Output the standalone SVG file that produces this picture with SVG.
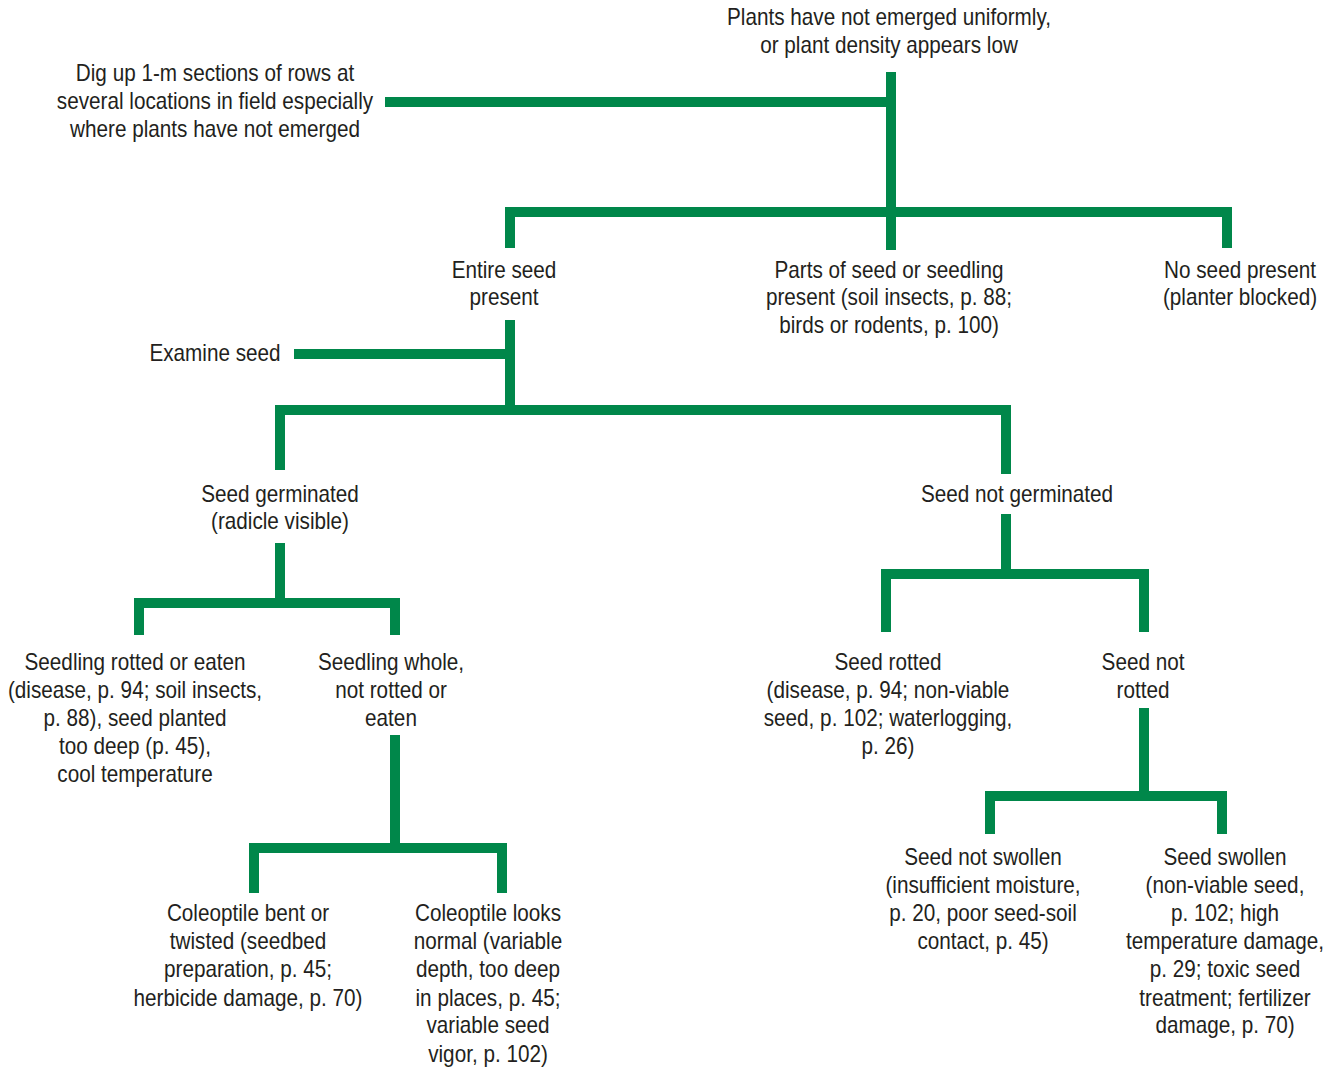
<svg xmlns="http://www.w3.org/2000/svg" width="1340" height="1069" viewBox="0 0 1340 1069">
<style>
text{font-family:"Liberation Sans",Arial,sans-serif;font-size:23px;fill:#231f20;text-anchor:middle}
.c{fill:none;stroke:#00874a;stroke-width:10;stroke-linejoin:miter;stroke-linecap:butt}
</style>
<rect width="1340" height="1069" fill="#fff"/>
<g id="connectors">
<line class="c" x1="891" y1="72" x2="891" y2="250"/>
<line class="c" x1="385" y1="102" x2="891" y2="102"/>
<polyline class="c" points="510,248 510,212 1227,212 1227,248"/>
<line class="c" x1="510" y1="320" x2="510" y2="410"/>
<line class="c" x1="294" y1="354" x2="510" y2="354"/>
<polyline class="c" points="280,470 280,410 1006,410 1006,474"/>
<line class="c" x1="280" y1="543" x2="280" y2="603"/>
<polyline class="c" points="139,635 139,603 395,603 395,635"/>
<line class="c" x1="1006" y1="514" x2="1006" y2="574"/>
<polyline class="c" points="886,632 886,574 1144,574 1144,632"/>
<line class="c" x1="395" y1="735" x2="395" y2="848"/>
<polyline class="c" points="254,893 254,848 502,848 502,893"/>
<line class="c" x1="1144" y1="708" x2="1144" y2="796"/>
<polyline class="c" points="990,834 990,796 1222,796 1222,834"/>
</g>
<g id="n-top" transform="translate(889 0) scale(0.9 1)"><text x="0" y="25">Plants have not emerged uniformly,</text><text x="0" y="53">or plant density appears low</text></g>
<g id="n-dig" transform="translate(215 0) scale(0.9 1)"><text x="0" y="81">Dig up 1-m sections of rows at</text><text x="0" y="109">several locations in field especially</text><text x="0" y="137">where plants have not emerged</text></g>
<g id="n-entire" transform="translate(504 0) scale(0.9 1)"><text x="0" y="278">Entire seed</text><text x="0" y="305">present</text></g>
<g id="n-parts" transform="translate(889 0) scale(0.9 1)"><text x="0" y="278">Parts of seed or seedling</text><text x="0" y="305">present (soil insects, p. 88;</text><text x="0" y="333">birds or rodents, p. 100)</text></g>
<g id="n-noseed" transform="translate(1240 0) scale(0.9 1)"><text x="0" y="278">No seed present</text><text x="0" y="305">(planter blocked)</text></g>
<g id="n-examine" transform="translate(215 0) scale(0.9 1)"><text x="0" y="361">Examine seed</text></g>
<g id="n-germ" transform="translate(280 0) scale(0.9 1)"><text x="0" y="502">Seed germinated</text><text x="0" y="529">(radicle visible)</text></g>
<g id="n-notgerm" transform="translate(1017 0) scale(0.9 1)"><text x="0" y="502">Seed not germinated</text></g>
<g id="n-rotted-eaten" transform="translate(135 0) scale(0.9 1)"><text x="0" y="670">Seedling rotted or eaten</text><text x="0" y="698">(disease, p. 94; soil insects,</text><text x="0" y="726">p. 88), seed planted</text><text x="0" y="754">too deep (p. 45),</text><text x="0" y="782">cool temperature</text></g>
<g id="n-whole" transform="translate(391 0) scale(0.9 1)"><text x="0" y="670">Seedling whole,</text><text x="0" y="698">not rotted or</text><text x="0" y="726">eaten</text></g>
<g id="n-bent" transform="translate(248 0) scale(0.9 1)"><text x="0" y="921">Coleoptile bent or</text><text x="0" y="949">twisted (seedbed</text><text x="0" y="977">preparation, p. 45;</text><text x="0" y="1006">herbicide damage, p. 70)</text></g>
<g id="n-normal" transform="translate(488 0) scale(0.9 1)"><text x="0" y="921">Coleoptile looks</text><text x="0" y="949">normal (variable</text><text x="0" y="977">depth, too deep</text><text x="0" y="1006">in places, p. 45;</text><text x="0" y="1033">variable seed</text><text x="0" y="1062">vigor, p. 102)</text></g>
<g id="n-seedrotted" transform="translate(888 0) scale(0.9 1)"><text x="0" y="670">Seed rotted</text><text x="0" y="698">(disease, p. 94; non-viable</text><text x="0" y="726">seed, p. 102; waterlogging,</text><text x="0" y="754">p. 26)</text></g>
<g id="n-notrotted" transform="translate(1143 0) scale(0.9 1)"><text x="0" y="670">Seed not</text><text x="0" y="698">rotted</text></g>
<g id="n-notswollen" transform="translate(983 0) scale(0.9 1)"><text x="0" y="865">Seed not swollen</text><text x="0" y="893">(insufficient moisture,</text><text x="0" y="921">p. 20, poor seed-soil</text><text x="0" y="949">contact, p. 45)</text></g>
<g id="n-swollen" transform="translate(1225 0) scale(0.9 1)"><text x="0" y="865">Seed swollen</text><text x="0" y="893">(non-viable seed,</text><text x="0" y="921">p. 102; high</text><text x="0" y="949">temperature damage,</text><text x="0" y="977">p. 29; toxic seed</text><text x="0" y="1006">treatment; fertilizer</text><text x="0" y="1033">damage, p. 70)</text></g>
</svg>
